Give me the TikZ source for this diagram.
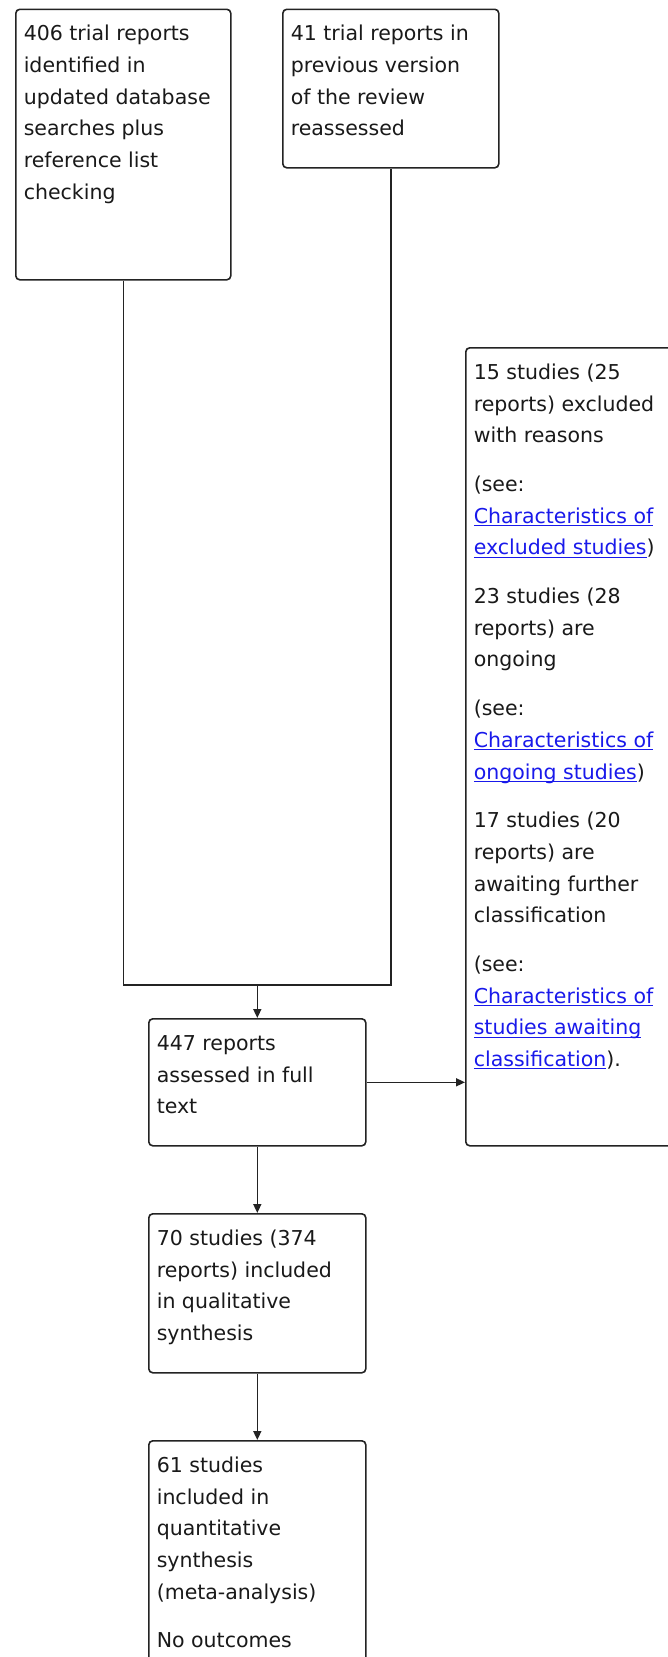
\documentclass[tikz,border=0pt]{standalone}
\usepackage{fontspec}
\setmainfont{DejaVu Sans}
\usetikzlibrary{arrows.meta}
\definecolor{linkblue}{RGB}{25,25,235}
\definecolor{edge}{RGB}{35,35,35}
\definecolor{txt}{RGB}{25,25,25}
\newcommand{\lnk}[1]{\leavevmode{\color{linkblue}\setbox0\hbox{#1}\rlap{\rule[-2.8pt]{\wd0}{1.1pt}}\box0}}
\newcommand{\boxtext}[3]{\parbox[t][#2pt][t]{#1pt}{\raggedright\fontsize{20.5pt}{31.7pt}\selectfont\rule{0pt}{31.5pt}#3}}
\tikzset{
  flowbox/.style={draw=edge, line width=1.6pt, rounded corners=4pt, anchor=north west,
    inner xsep=8pt, inner ysep=0pt, fill=white, text=txt},
  conn/.style={draw=edge, line width=1.6pt, line join=miter},
  arr/.style={conn, -{Triangle[length=9pt,width=8pt]}}
}
\begin{document}
\begin{tikzpicture}[x=1pt,y=-1pt]
\useasboundingbox (0,0) rectangle (668,1657);
\clip (0,0) rectangle (668,1657);
\fill[white] (0,0) rectangle (668,1657);

\node[flowbox] (b1) at (15,8.5) {\boxtext{199}{270.5}{406 trial reports\\identified in\\updated database\\searches plus\\reference list\\checking}};
\node[flowbox] (b2) at (282,8.5) {\boxtext{200}{158.5}{41 trial reports in\\previous version\\of the review\\reassessed}};
\node[flowbox] (b3) at (465,347) {\boxtext{200}{798}{15 studies (25\\reports) excluded\\with reasons\\[17pt]
(see:\\\lnk{Characteristics of}\\\lnk{excluded studies})\\[17pt]
23 studies (28\\reports) are\\ongoing\\[17pt]
(see:\\\lnk{Characteristics of}\\\lnk{ongoing studies})\\[17pt]
17 studies (20\\reports) are\\awaiting further\\classification\\[17pt]
(see:\\\lnk{Characteristics of}\\\lnk{studies awaiting}\\\lnk{classification}).}};
\node[flowbox] (b4) at (148,1018) {\boxtext{201}{127}{447 reports\\assessed in full\\text}};
\node[flowbox] (b5) at (148,1213) {\boxtext{201}{159}{70 studies (374\\reports) included\\in qualitative\\synthesis}};
\node[flowbox] (b6) at (148,1440) {\boxtext{201}{280}{61 studies\\included in\\quantitative\\synthesis\\(meta-analysis)\\[17pt]No outcomes}};

\coordinate (j) at (b4.north |- 0,985);
\draw[conn] (b1.south) -- (b1.south |- j) -- (b2.south |- j) -- (b2.south);
\draw[arr] (j) -- (b4.north);
\draw[arr] (b4.east) -- (b4.east -| b3.west);
\draw[arr] (b4.south) -- (b5.north);
\draw[arr] (b5.south) -- (b6.north);
\end{tikzpicture}
\end{document}
